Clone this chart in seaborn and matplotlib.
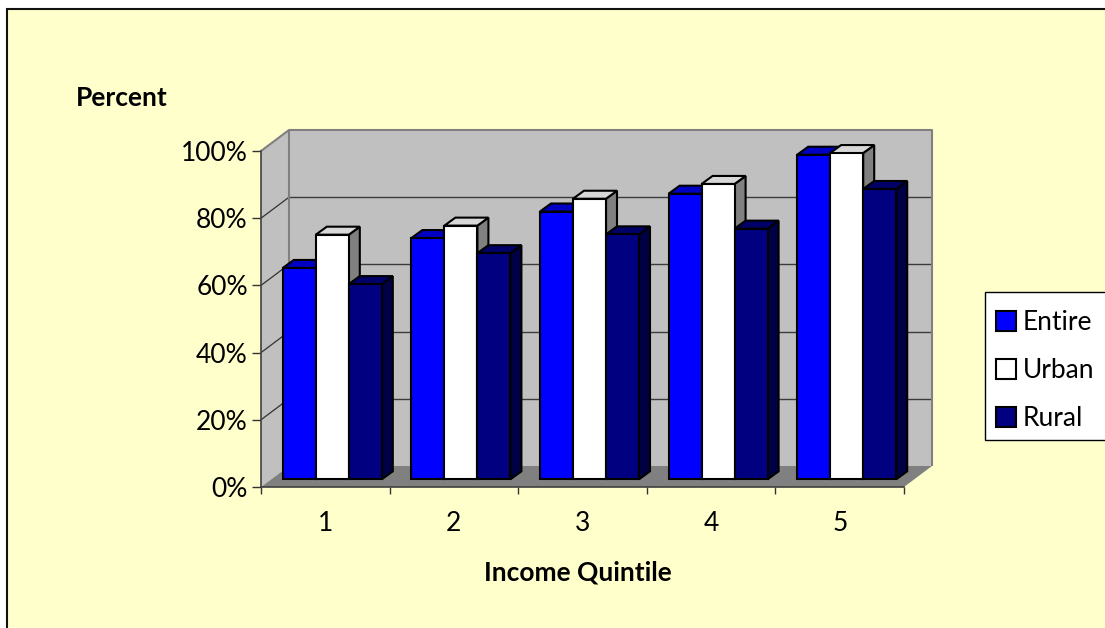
import matplotlib
matplotlib.use("Agg")
import matplotlib.pyplot as plt
from matplotlib.patches import Polygon, Rectangle
from matplotlib.transforms import Affine2D, IdentityTransform
import pandas as pd
import seaborn as sns

quintiles = ["1", "2", "3", "4", "5"]
entire = [62.9, 71.8, 79.7, 85.0, 96.6]
urban = [72.8, 75.5, 83.5, 87.9, 97.1]
rural = [58.1, 67.3, 72.9, 74.6, 86.4]
y_ticks = [0, 20, 40, 60, 80, 100]

W, H = 1105, 628
front_colors = {"Entire": "#0000FF", "Urban": "#FFFFFF", "Rural": "#000080"}
top_colors = {"Entire": "#0000C4", "Urban": "#D8D8D8", "Rural": "#000068"}
side_colors = {"Entire": "#000080", "Urban": "#808080", "Rural": "#000044"}

sns.set_style("white")
plt.rcParams["font.family"] = ["Lato", "DejaVu Sans"]
plt.rcParams["text.color"] = "black"
plt.rcParams["axes.labelcolor"] = "black"
plt.rcParams["xtick.labelcolor"] = "black"
plt.rcParams["ytick.labelcolor"] = "black"

fig = plt.figure(figsize=(W / 100, H / 100), dpi=100, facecolor="white")
ax = fig.add_axes([261 / W, 1 - 487 / H, 643 / W, 336 / H])
ax.patch.set_visible(False)

# Chart area: the frame runs off the right and bottom edges of the figure
fig.add_artist(Rectangle((7 / W, -0.05), 1.1, 1.05 - 9 / H,
                         transform=fig.transFigure, facecolor="#FFFFCC",
                         edgecolor="#111111", linewidth=1.5, zorder=-5))

# Legend box, also cut off by the right edge
fig.add_artist(Rectangle((985 / W, 1 - 440 / H), 130 / W, 148 / H,
                         transform=fig.transFigure, facecolor="white",
                         edgecolor="black", linewidth=1.0, zorder=-4))

data = pd.DataFrame({
    "quintile": quintiles * 3,
    "percent": entire + urban + rural,
    "series": ["Entire"] * 5 + ["Urban"] * 5 + ["Rural"] * 5,
})
sns.barplot(data=data, x="quintile", y="percent", hue="series",
            hue_order=["Entire", "Urban", "Rural"], palette=front_colors,
            width=0.77, gap=0, saturation=1, errorbar=None,
            edgecolor="black", linewidth=1.5, ax=ax, zorder=5)

ax.set_xlim(-0.5, 4.5)
ax.set_ylim(0, 100)


def px(x, y):
    """Figure pixel position measured from the top-left corner."""
    return (x, H - y)


def face(points, color, edge=None, lw=0.0, z=1):
    ax.add_patch(Polygon([px(*p) for p in points], closed=True,
                         transform=IdentityTransform(), facecolor=color,
                         edgecolor=edge if edge else color, linewidth=lw,
                         clip_on=False, zorder=z, joinstyle="miter"))


def wire(xs, ys, color, lw, z=1.5):
    ax.plot(xs, [H - v for v in ys], color=color, linewidth=lw,
            transform=IdentityTransform(), clip_on=False, zorder=z,
            solid_capstyle="butt")


# Walls and floor of the box behind the bars
LEFT, RIGHT, BASE, TOP = 261, 904, 487, 151
DX, DY = 28, 21
face([(LEFT + DX, BASE - DY), (RIGHT + DX, BASE - DY), (RIGHT + DX, TOP - DY),
      (LEFT + DX, TOP - DY)], "#C0C0C0")
face([(LEFT, BASE), (LEFT + DX, BASE - DY), (LEFT + DX, TOP - DY), (LEFT, TOP)], "#C0C0C0")
face([(LEFT, BASE), (RIGHT, BASE), (RIGHT + DX, BASE - DY), (LEFT + DX, BASE - DY)], "#808080")

# Gridlines follow the side wall, then the back wall
for tick in y_ticks[1:-1]:
    _, yd = ax.transData.transform((0, tick))
    yp = H - yd
    wire([LEFT, LEFT + DX], [yp, yp - DY], "#333333", 0.9)
    wire([LEFT + DX, RIGHT + DX], [yp - DY, yp - DY], "#3c3c3c", 1.0)
wire([LEFT, LEFT + DX, RIGHT + DX, RIGHT + DX], [TOP, TOP - DY, TOP - DY, BASE - DY], "#808080", 1.5)
wire([LEFT + DX, LEFT + DX], [TOP - DY, BASE - DY], "#808080", 1.5)

# Bars sit partway into the box; each gets a top and a side face
SHIFT_X, SHIFT_Y = 7, 7.7
DEPTH_X, DEPTH_Y = 11, 8
bar_shift = ax.transData + Affine2D().translate(SHIFT_X, SHIFT_Y)
for container, name in zip(ax.containers, ["Entire", "Urban", "Rural"]):
    for bar in container:
        bar.set_transform(bar_shift)
        bar.set_clip_on(False)
        bar.set_joinstyle("miter")
        x0, y0 = bar_shift.transform((bar.get_x(), 0))
        x1, y1 = bar_shift.transform((bar.get_x() + bar.get_width(), bar.get_height()))
        x0p, x1p, y0p, y1p = x0, x1, H - y0, H - y1
        order = 2 + 0.1 * ["Entire", "Urban", "Rural"].index(name)
        face([(x1p, y0p), (x1p + DEPTH_X, y0p - DEPTH_Y), (x1p + DEPTH_X, y1p - DEPTH_Y), (x1p, y1p)],
             side_colors[name], "black", 1.5, order)
        face([(x0p, y1p), (x1p, y1p), (x1p + DEPTH_X, y1p - DEPTH_Y), (x0p + DEPTH_X, y1p - DEPTH_Y)],
             top_colors[name], "black", 1.5, order)

# Axes
sns.despine(ax=ax, top=True, right=True)
for side in ("left", "bottom"):
    ax.spines[side].set_color("#404040")
    ax.spines[side].set_linewidth(1.2)
    ax.spines[side].set_zorder(4)
ax.set_yticks(y_ticks, [f"{t}%" for t in y_ticks])
ax.tick_params(axis="y", length=6.5, width=1.0, color="#333333", labelsize=19, pad=3, left=True)
ax.set_xticks([i - 0.5 for i in range(6)], minor=True)
ax.tick_params(axis="x", which="minor", length=5, width=1.0, color="#333333", bottom=True)
ax.tick_params(axis="x", which="major", length=0, labelsize=19, pad=17)

ax.set_xlabel("Income Quintile", fontsize=19, fontweight="bold")
ax.xaxis.set_label_coords((578 - LEFT) / 643, (BASE - 572) / 336)
ax.xaxis.label.set_verticalalignment("center")
ax.set_ylabel("Percent", fontsize=19, fontweight="bold", rotation=0, ha="center", va="center")
ax.yaxis.set_label_coords((122 - LEFT) / 643, (BASE - 98) / 336)

handles, labels = ax.get_legend_handles_labels()
legend = ax.legend(handles, labels, loc="upper left",
                   bbox_to_anchor=(996 / W, 1 - 310 / H), bbox_transform=fig.transFigure,
                   borderaxespad=0, frameon=False, fontsize=19, title=None,
                   handlelength=0.76, handleheight=0.76, handletextpad=0.25,
                   labelspacing=0.875, borderpad=0, labelcolor="black")
legend.set_zorder(10)

fig.savefig("out.png", dpi=100, facecolor=fig.get_facecolor())
